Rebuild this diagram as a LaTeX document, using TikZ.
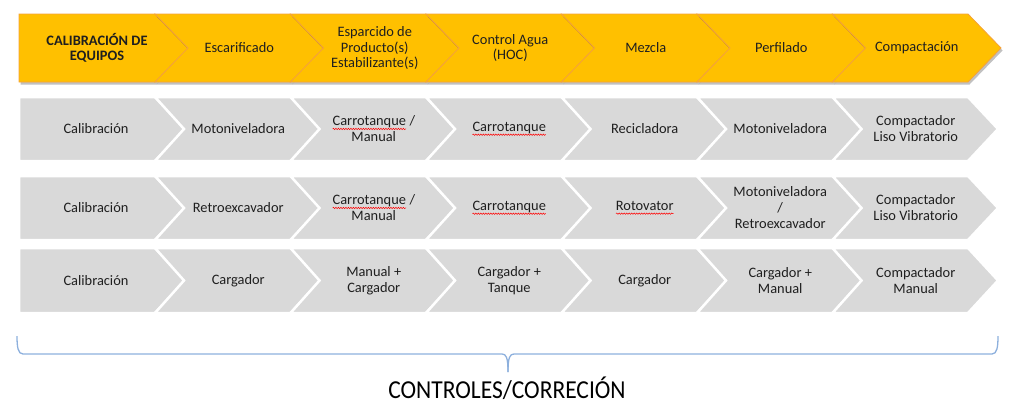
\documentclass[tikz,border=0pt]{standalone}
\usepackage{fontspec}
\setmainfont{Carlito}
\usetikzlibrary{shadows,decorations.pathmorphing}
\definecolor{ygold}{HTML}{FFC000}
\definecolor{yedge}{HTML}{F5A23A}
\definecolor{gfill}{HTML}{D9D9D9}
\definecolor{txt}{HTML}{1F1F1F}
\definecolor{bracec}{HTML}{8DB0DD}
\newcommand\spellwave[1]{\tikz[baseline=(sw.base)]{\node[inner sep=0pt, outer sep=0pt] (sw) {#1};
  \draw[red, line width=0.5pt, decorate, decoration={snake, amplitude=0.7pt, segment length=2.5pt}]
    ([yshift=-3pt]sw.base west) -- ([yshift=-3pt]sw.base east);}}
\tikzset{
  ybox/.style={fill=ygold, draw=yedge, line width=0.8pt, line join=miter,
    drop shadow={shadow xshift=1.5pt, shadow yshift=-2.5pt, opacity=0.35, fill=black!70}},
  gbox/.style={fill=gfill, draw=white, line width=2.5pt, line join=miter},
  lbl/.style={align=center, text=txt, inner sep=0pt, font=\fontsize{14.4}{16}\selectfont},
  bracepath/.style={draw=bracec, line width=1.3pt},
}
\begin{document}
\begin{tikzpicture}[x=1pt, y=-1pt]
\useasboundingbox (0,0) rectangle (1024,413);
% ---- yellow header row
\foreach \t [count=\i from 0] in {{\textbf{CALIBRACIÓN DE}\\\textbf{EQUIPOS}},{Escarificado},{Esparcido de\\Producto(s)\\Estabilizante(s)},{Control Agua\\(HOC)},{Mezcla},{Perfilado},{Compactación}} {
  \pgfmathsetmacro\xR{155+135.5*\i}
  \pgfmathsetmacro\xL{\i==0 ? 19 : 155+135.5*(\i-1)}
  \pgfmathsetmacro\nd{\i==0 ? 0 : 33}
  \pgfmathsetmacro\xc{\i==0 ? 97 : (\xL+\xR+33)/2}
  \path[ybox] (\xL,14) -- (\xR,14) -- (\xR+33,48) -- (\xR,82) -- (\xL,82) -- (\xL+\nd,48) -- cycle;
  \node[lbl, font=\fontsize{14.4}{15.5}\selectfont] (y\i) at (\xc,48) {\t};
}
% ---- gray rows
\foreach \yt/\yb/\rname/\texts in {
  97/161/a/{{Calibración},{Motoniveladora},{\spellwave{Carrotanque} /\\Manual},{\spellwave{Carrotanque}},{Recicladora},{Motoniveladora},{Compactador\\Liso Vibratorio}},
  176/240/b/{{Calibración},{Retroexcavador},{\spellwave{Carrotanque} /\\Manual},{\spellwave{Carrotanque}},{\spellwave{Rotovator}},{Motoniveladora\\/\\Retroexcavador},{Compactador\\Liso Vibratorio}},
  248/313/c/{{Calibración},{Cargador},{Manual +\\Cargador},{Cargador +\\Tanque},{Cargador},{Cargador +\\Manual},{Compactador\\Manual}}} {
  \pgfmathsetmacro\ym{(\yt+\yb)/2}
  \foreach \t [count=\i from 0] in \texts {
    \pgfmathsetmacro\xR{155+135.5*\i}
    \pgfmathsetmacro\xL{\i==0 ? 19 : 155+135.5*(\i-1)}
    \pgfmathsetmacro\nd{\i==0 ? 0 : 29}
    \pgfmathsetmacro\xc{\i==0 ? 96 : (\xL+\xR+31)/2}
    \path[gbox] (\xL,\yt) -- (\xR,\yt) -- (\xR+30,\ym) -- (\xR,\yb) -- (\xL,\yb) -- (\xL+\nd,\ym) -- cycle;
    \node[lbl] (\rname\i) at (\xc,\ym) {\t};
  }
}
% ---- brace
\path[bracepath] (17,336) .. controls (17,347) and (18,354) .. (23,354) -- (502,354)
  .. controls (506,354) and (508,357) .. (508,372);
\path[bracepath] (998,336) .. controls (998,347) and (997,354) .. (992,354) -- (514,354)
  .. controls (510,354) and (508,357) .. (508,372);
\node[inner sep=0pt, text=black] (ctrl) at (507,388) {\scalebox{1}[1.1]{\fontsize{23.5}{26}\selectfont CONTROLES/CORRECIÓN}};
\end{tikzpicture}
\end{document}
